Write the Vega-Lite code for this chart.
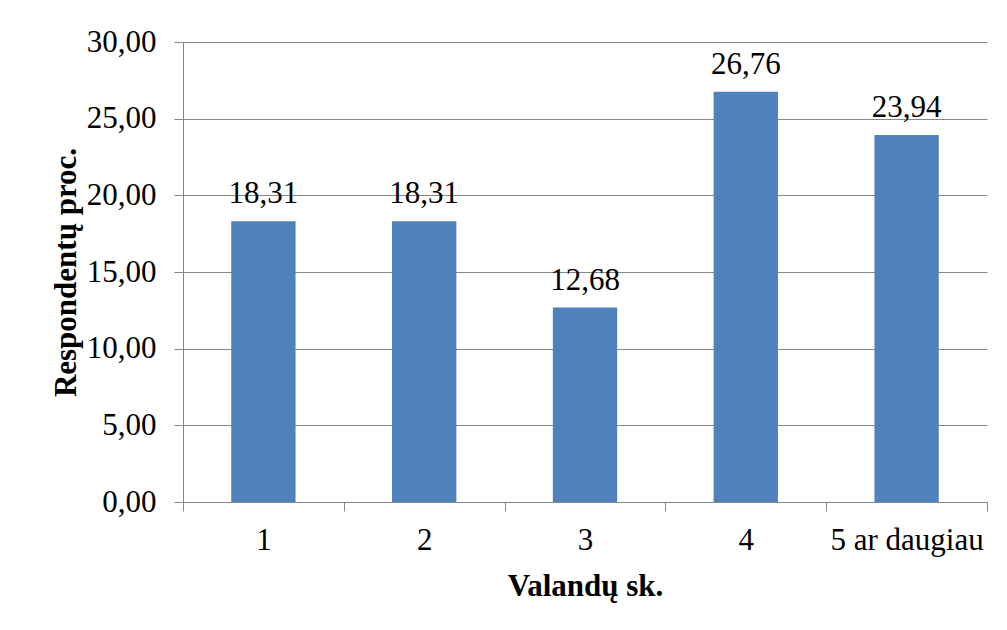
{
  "$schema": "https://vega.github.io/schema/vega-lite/v6.json",
  "width": 804,
  "height": 460,
  "autosize": {"type": "none"},
  "padding": {"left": 183, "top": 42, "right": 20, "bottom": 128},
  "background": "white",
  "config": {
    "locale": {"number": {"decimal": ",", "thousands": " ", "grouping": [3], "currency": ["", ""]}},
    "view": {"stroke": null},
    "font": "Liberation Serif"
  },
  "data": {
    "values": [
      {"valandos": "1", "procentai": 18.31},
      {"valandos": "2", "procentai": 18.31},
      {"valandos": "3", "procentai": 12.68},
      {"valandos": "4", "procentai": 26.76},
      {"valandos": "5 ar daugiau", "procentai": 23.94}
    ]
  },
  "encoding": {
    "x": {
      "field": "valandos",
      "type": "nominal",
      "sort": null,
      "scale": {"paddingInner": 0, "paddingOuter": 0},
      "axis": {
        "title": "Valandų sk.",
        "labelAngle": 0,
        "labelFont": "Liberation Serif",
        "labelFontSize": 31,
        "labelColor": "black",
        "labelPadding": 14,
        "tickBand": "extent",
        "tickSize": 9,
        "tickColor": "#868686",
        "domainColor": "#868686",
        "titleFont": "Liberation Serif",
        "titleFontSize": 31,
        "titleFontWeight": "bold",
        "titleColor": "black",
        "titlePadding": 16
      }
    },
    "y": {
      "field": "procentai",
      "type": "quantitative",
      "scale": {"domain": [0, 30], "nice": false},
      "axis": {
        "title": "Respondentų proc.",
        "values": [0, 5, 10, 15, 20, 25, 30],
        "format": ".2f",
        "labelFont": "Liberation Serif",
        "labelFontSize": 31,
        "labelColor": "black",
        "labelPadding": 18,
        "tickSize": 9,
        "tickColor": "#868686",
        "domainColor": "#868686",
        "gridColor": "#868686",
        "grid": true,
        "titleFont": "Liberation Serif",
        "titleFontSize": 31,
        "titleFontWeight": "bold",
        "titleColor": "black",
        "titlePadding": 4
      }
    }
  },
  "layer": [
    {
      "mark": {"type": "bar", "color": "#4F81BD", "width": {"band": 0.4}}
    },
    {
      "mark": {"type": "text", "baseline": "alphabetic", "dy": -18, "fontSize": 31, "font": "Liberation Serif", "color": "black"},
      "encoding": {
        "text": {"field": "procentai", "type": "quantitative", "format": ".2f"}
      }
    }
  ]
}
